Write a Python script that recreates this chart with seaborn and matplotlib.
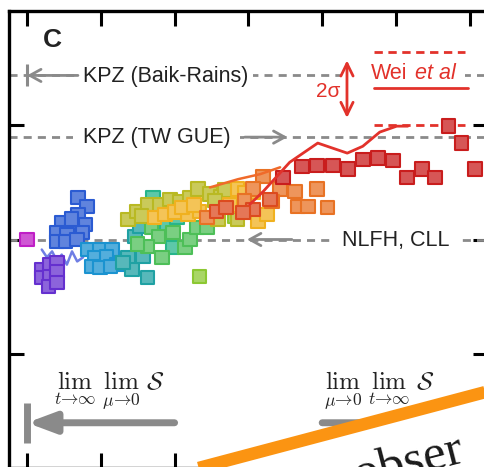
import matplotlib
matplotlib.use("Agg")
import matplotlib.pyplot as plt
import matplotlib.colors as mcolors
from matplotlib.lines import Line2D
from matplotlib.patches import Polygon, Rectangle
import pandas as pd
import seaborn as sns

sns.set_theme(style="white")
plt.rcParams["font.family"] = ["Liberation Sans", "DejaVu Sans"]
plt.rcParams["mathtext.fontset"] = "cm"

# ---- measured skewness (position along the crossover, skewness, colour group) ----
sample_x = [
    0.00,
    0.20, 0.31, 0.41, 0.20, 0.31, 0.41, 0.29, 0.41,
    0.69, 0.81, 0.69, 0.79, 0.47, 0.61, 0.41, 0.54, 0.75, 0.41, 0.52, 0.68, 0.60,
    0.83, 0.99, 1.15, 0.92, 1.08, 1.22, 0.88, 0.99, 1.13,
    1.37, 1.42, 1.57, 1.63, 1.46, 1.53, 1.30,
    1.71, 1.90, 2.03, 1.97,
    1.69, 1.78, 1.98, 1.63, 1.83, 2.14, 2.21, 2.30, 2.44, 1.50,
    2.34, 2.75, 2.82,
    1.37, 1.49, 1.63, 1.80, 1.94, 2.07, 2.21, 2.32, 2.48, 2.62, 2.68, 2.59, 2.85, 1.55, 2.55,
    1.73, 1.87, 2.18, 2.34, 2.85, 2.95, 3.06, 3.13, 3.25, 2.00, 2.10, 2.26, 2.75,
    2.44, 3.20, 3.43, 3.63, 3.93, 3.67, 3.81, 4.07, 3.32, 3.06, 2.95,
    3.06, 2.93, 3.29, 2.57, 2.70,
    3.47, 3.73, 3.93, 4.15, 4.35, 4.55, 4.76, 4.96, 5.15, 5.35, 5.53, 5.71, 5.89, 6.07,
]
sample_y = [
    0.000,
    -0.066, -0.055, -0.050, -0.083, -0.081, -0.070, -0.103, -0.094,
    0.092, 0.072, 0.055, 0.033, 0.037, 0.022, 0.015, 0.011, 0.015, -0.004, -0.004, 0.000, 0.045,
    -0.022, -0.022, -0.022, -0.039, -0.037, -0.055, -0.059, -0.061, -0.059,
    -0.039, -0.066, -0.037, -0.083, 0.007, 0.029, -0.050,
    0.092, 0.033, 0.048, -0.018,
    0.026, 0.007, 0.015, -0.015, -0.039, -0.018, 0.000, 0.026, 0.026, -0.010,
    -0.081, 0.103, 0.050,
    0.044, 0.061, 0.077, 0.077, 0.088, 0.083, 0.092, 0.110, 0.099, 0.094, 0.108, 0.044, 0.044,
    0.052, 0.085,
    0.048, 0.055, 0.055, 0.061, 0.110, 0.103, 0.103, 0.039, 0.055, 0.060, 0.070, 0.075, 0.075,
    0.048, 0.138, 0.110, 0.105, 0.110, 0.072, 0.072, 0.070, 0.083, 0.110, 0.085,
    0.066, 0.059, 0.088, 0.061, 0.070,
    0.136, 0.160, 0.162, 0.162, 0.154, 0.175, 0.178, 0.173, 0.136, 0.154, 0.136, 0.248, 0.211, 0.154,
]
sample_group = (
    ["magenta"]
    + ["violet"] * 8
    + ["blue"] * 13
    + ["sky"] * 9
    + ["teal"] * 7
    + ["seagreen"] * 4
    + ["green"] * 10
    + ["lime"] * 3
    + ["olive"] * 15
    + ["yellow"] * 13
    + ["orange"] * 11
    + ["redorange"] * 5
    + ["red"] * 14
)

group_colors = {
    "magenta": "#bf1fc6", "violet": "#6530cf", "blue": "#2b5bd2", "sky": "#1b93d0",
    "teal": "#1fa1a3", "seagreen": "#27b58c", "green": "#4dbf58", "lime": "#8cc833",
    "olive": "#b9b923", "yellow": "#f0b11f", "orange": "#e87224", "redorange": "#dc4a1f",
    "red": "#c91d1d",
}

# ---- simulation curves ----
red_x = [3.02, 3.20, 3.56, 3.94, 4.34, 4.55, 4.78, 5.01, 5.16]
red_y = [0.077, 0.105, 0.169, 0.211, 0.189, 0.204, 0.235, 0.248, 0.248]
orange_x = [2.48, 2.86, 3.16, 3.43]
orange_y = [0.114, 0.132, 0.143, 0.158]
violet_x = [0.20, 0.27, 0.34, 0.41, 0.47, 0.54, 0.61, 0.68, 0.76]
violet_y = [-0.022, -0.039, -0.026, -0.048, -0.033, -0.055, -0.026, -0.048, -0.039]

# ---- theoretical reference values ----
skew_baik_rains = 0.359
skew_tw_gue = 0.224
skew_gaussian = 0.0
wei_mean, wei_low, wei_high = 0.331, 0.25, 0.41

GREY = "#8a8a8a"
RED = "#e2322b"
TXT = "#222222"

W, H = 485, 467
fig = plt.figure(figsize=(W / 100, H / 100), dpi=100)
ax = fig.add_axes([9 / W, -1 / H, 479 / W, 457 / H])
ax.set_xlim(-0.244, 6.247)
ax.set_ylim(-0.5, 0.5)

# dashed theory levels
for level in (skew_baik_rains, skew_tw_gue, skew_gaussian):
    ax.axhline(level, color=GREY, lw=2.0, dashes=(2.9, 2.2), zorder=1)

# white backing behind the Wei et al annotation
ax.add_patch(Rectangle((4.25, 0.33), 1.69, 0.075, facecolor="white",
                       edgecolor="none", zorder=2))

# Wei et al band
ax.plot([4.70, 5.93], [wei_high, wei_high], color=RED, lw=2.0, dashes=(3.0, 2.0), zorder=3)
ax.plot([4.70, 5.98], [wei_mean, wei_mean], color=RED, lw=2.0, zorder=3)
ax.plot([4.70, 5.93], [wei_low, wei_low], color=RED, lw=2.0, dashes=(3.0, 2.0), zorder=3)
ax.annotate("", xy=(4.336, 0.392), xytext=(4.336, 0.266),
            arrowprops=dict(arrowstyle="<->,head_length=0.45,head_width=0.22",
                            color=RED, lw=2.0, shrinkA=0, shrinkB=0,
                            mutation_scale=20), zorder=4)
ax.text(4.24, 0.312, "2σ", color=RED, fontsize=15, ha="right", va="baseline", zorder=4)
ax.text(4.66, 0.352, "Wei", color=RED, fontsize=15.5, ha="left", va="baseline", zorder=4)
ax.text(5.26, 0.352, "et al", color=RED, fontsize=15.5, style="italic",
        ha="left", va="baseline", zorder=4)

# labelled theory lines
box = dict(facecolor="white", edgecolor="none", pad=3)
ax.text(0.76, 0.344, "KPZ (Baik-Rains)", fontsize=15.5, color=TXT, ha="left",
        va="baseline", bbox=box, zorder=3)
ax.text(0.76, 0.211, "KPZ (TW GUE)", fontsize=15.5, color=TXT, ha="left",
        va="baseline", bbox=dict(facecolor="white", edgecolor="none", pad=7), zorder=3)
ax.text(4.27, -0.015, "NLFH, CLL", fontsize=15.5, color=TXT, ha="left",
        va="baseline", bbox=dict(facecolor="white", edgecolor="none", pad=6), zorder=3)
ax.text(0.22, 0.436, "C", fontsize=19, fontweight="bold", color=TXT, ha="left",
        va="center", zorder=3)

# small pointer arrows
thin = dict(arrowstyle="->,head_length=0.4,head_width=0.22", color=GREY, lw=2.0,
            shrinkA=0, shrinkB=0, mutation_scale=20)
ax.annotate("", xy=(0.0, skew_baik_rains), xytext=(0.69, skew_baik_rains),
            arrowprops=thin, zorder=4)
ax.plot([0.0, 0.0], [0.336, 0.384], color=GREY, lw=2.2, solid_capstyle="butt", zorder=4)
ax.annotate("", xy=(3.53, skew_tw_gue), xytext=(2.95, skew_tw_gue),
            arrowprops=thin, zorder=4)
ax.annotate("", xy=(2.98, skew_gaussian), xytext=(3.59, skew_gaussian),
            arrowprops=thin, zorder=4)

# order-of-limits arrows
big = dict(arrowstyle="-|>,head_length=0.83,head_width=0.31", color=GREY, lw=5,
           shrinkA=0, shrinkB=0, mutation_scale=20)
ax.annotate("", xy=(0.0, -0.401), xytext=(2.0, -0.401), arrowprops=big, zorder=4)
ax.plot([0.0, 0.0], [-0.357, -0.445], color=GREY, lw=5, solid_capstyle="butt", zorder=4)
ax.annotate("", xy=(6.0, -0.401), xytext=(4.0, -0.401), arrowprops=big, zorder=4)
ax.plot([6.0, 6.0], [-0.357, -0.445], color=GREY, lw=5, solid_capstyle="butt", zorder=4)
ax.text(0.37, -0.333, r"$\lim_{t\to\infty}\ \lim_{\mu\to 0}\ \mathcal{S}$",
        fontsize=18, color=TXT, ha="left", va="center", zorder=4)
ax.text(4.03, -0.333, r"$\lim_{\mu\to 0}\ \lim_{t\to\infty}\ \mathcal{S}$",
        fontsize=18, color=TXT, ha="left", va="center", zorder=4)

# measured points
df = pd.DataFrame({"x": sample_x, "y": sample_y, "group": sample_group})
face = {g: mcolors.to_hex(0.75 * mcolors.to_rgba_array(c)[0][:3] + 0.25)
        for g, c in group_colors.items()}
sns.scatterplot(data=df, x="x", y="y", hue="group", palette=face, marker="s",
                s=95, linewidth=1.5, legend=False, ax=ax, zorder=5)
pts = ax.collections[-1]
pts.set_edgecolor([group_colors[g] for g in sample_group])

# simulation curves
sns.lineplot(x=violet_x, y=violet_y, color="#6f7ee4", lw=1.8, sort=False,
             estimator=None, ax=ax, zorder=4)
sns.lineplot(x=orange_x, y=orange_y, color="#f06a2a", lw=1.8, sort=False,
             estimator=None, ax=ax, zorder=6)
sns.lineplot(x=red_x, y=red_y, color=RED, lw=2.0, sort=False, estimator=None,
             ax=ax, zorder=6)

# frame and inward ticks
ax.set_xticks(range(7))
ax.set_yticks([-0.25, 0.0, 0.25])
ax.tick_params(direction="in", length=11, width=2.2, color="black", top=True,
               right=True, bottom=True, left=True, labelbottom=False, labelleft=False)
for sp in ax.spines.values():
    sp.set_color("black")
    sp.set_linewidth(2.4)
ax.set_xlabel("")
ax.set_ylabel("")


# overlapping page elements in the lower right
def fp(px, py):
    return (px / W, 1 - py / H)


fig.add_artist(Polygon([fp(176, 476), fp(492, 396), fp(492, 475), fp(176, 475)],
                       closed=True, facecolor="white", edgecolor="none",
                       transform=fig.transFigure, zorder=5))
(xa, ya), (xb, yb) = fp(176, 474), fp(492, 390.3)
fig.add_artist(Line2D([xa, xb], [ya, yb], color="#fb9412", lw=9,
                      solid_capstyle="butt", transform=fig.transFigure, zorder=6))
fx, fy = fp(358, 490)
fig.text(fx, fy, "obser", fontsize=37, family="Liberation Serif", color="#1a1a1a",
         rotation=14.4, rotation_mode="anchor", ha="left", va="baseline", zorder=7)

fig.savefig("out.png", dpi=100)
